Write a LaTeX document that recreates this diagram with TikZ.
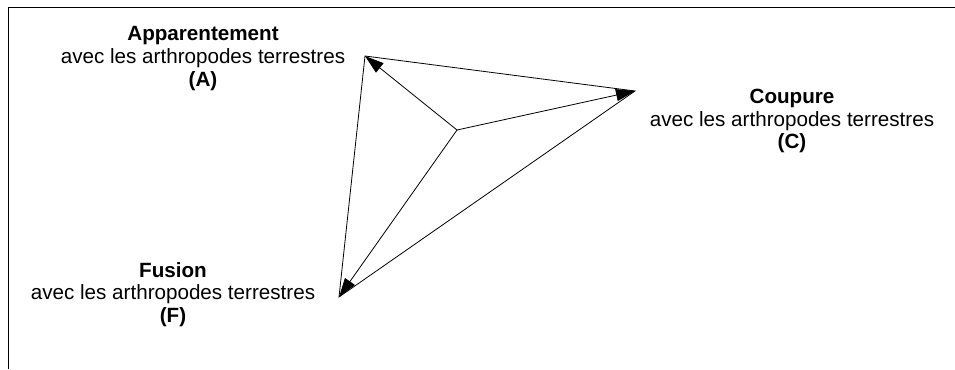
\documentclass[tikz,border=0pt]{standalone}
\usepackage{fontspec}
\setmainfont{Liberation Sans}
\usepackage{tikz}
\usetikzlibrary{arrows.meta}

\begin{document}
\begin{tikzpicture}[
    x=1bp, y=-1bp,
    lbl/.style={align=center, inner sep=0pt, font=\fontsize{20.7}{22.8}\selectfont},
    edge/.style={line width=0.8bp},
    ray/.style={line width=0.8bp, -{Triangle[length=19bp, width=12bp]}}
]
    \useasboundingbox (0,0) rectangle (955,369);
    % frame
    \draw[line width=1bp] (955,7) -- (8,7) -- (8,369);

    \coordinate (A) at (365,56);
    \coordinate (C) at (635,91);
    \coordinate (F) at (339,297);
    \coordinate (O) at (457,130);

    \node[lbl] (appar) at (203,58.5) {\textbf{Apparentement}\\avec les arthropodes terrestres\\\textbf{(A)}};
    \node[lbl] (coup) at (792,121) {\textbf{Coupure}\\avec les arthropodes terrestres\\\textbf{(C)}};
    \node[lbl] (fus) at (173,294.5) {\textbf{Fusion}\\avec les arthropodes terrestres\\\textbf{(F)}};

    \draw[edge] (A) -- (C) -- (F) -- cycle;
    \draw[ray] (O) -- (A);
    \draw[ray] (O) -- (C);
    \draw[ray] (O) -- (F);
\end{tikzpicture}
\end{document}
